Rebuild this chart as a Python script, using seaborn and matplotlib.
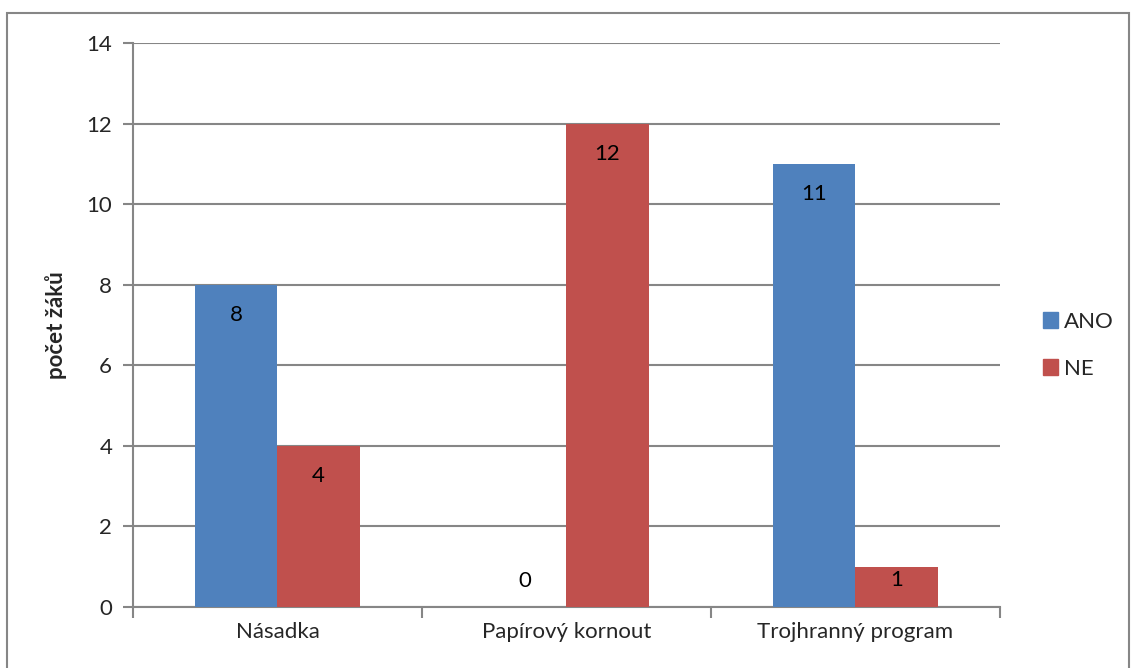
import seaborn as sns
import matplotlib.pyplot as plt
import matplotlib.patches as mpatches
import pandas as pd

kategorie = ["Násadka", "Papírový kornout", "Trojhranný program"]
ano = [8, 0, 11]
ne = [4, 12, 1]
odpovedi = ["ANO", "NE"]
barvy = ["#4F81BD", "#C0504D"]
yticks = [0, 2, 4, 6, 8, 10, 12, 14]

df = pd.DataFrame({
    "kategorie": kategorie * 2,
    "odpoved": ["ANO"] * len(kategorie) + ["NE"] * len(kategorie),
    "pocet": ano + ne,
})

sns.set_style("white")
plt.rcParams["font.family"] = ["Lato", "DejaVu Sans"]
grey = "#868686"

fig, ax = plt.subplots(figsize=(11.31, 6.68), dpi=100)
fig.subplots_adjust(left=0.1176, right=0.884, top=0.9356, bottom=0.0913)

sns.barplot(data=df, x="kategorie", y="pocet", hue="odpoved", order=kategorie,
            hue_order=odpovedi, palette=barvy, saturation=1, width=0.57, ax=ax,
            legend=False, zorder=3, linewidth=0, edgecolor="none")

ax.set_ylim(0, 14)
# kolik bodu odpovida jedne jednotce na ose y
pt_per_unit = ax.get_position().height * fig.get_figheight() * 72 / 14

# popisky hodnot
for cont in ax.containers:
    for bar in cont:
        h = bar.get_height()
        if h > 0:
            off = -min(22, h * pt_per_unit * 0.33)
        else:
            off = 19
        ax.annotate(f"{h:g}", (bar.get_x() + bar.get_width() / 2, h),
                    xytext=(0, off), textcoords="offset points",
                    ha="center", va="center", fontsize=16, color="black",
                    zorder=4)

ax.set_yticks(yticks)
ax.set_xlim(-0.5, len(kategorie) - 0.5)
ax.yaxis.grid(True, color=grey, linewidth=1.5)
ax.set_axisbelow(True)
for s in ["top", "right"]:
    ax.spines[s].set_visible(False)
for s in ["left", "bottom"]:
    ax.spines[s].set_color(grey)
    ax.spines[s].set_linewidth(1.5)

ax.tick_params(axis="y", length=7, width=1.5, color=grey, labelsize=16, pad=8,
               left=True)
ax.set_xticks([i - 0.5 for i in range(len(kategorie) + 1)], minor=True)
ax.tick_params(axis="x", which="minor", length=8, width=1.5, color=grey, bottom=True)
ax.tick_params(axis="x", which="major", length=0, labelsize=16, pad=11)
ax.set_xlabel("")
ax.set_ylabel("počet žáků", fontsize=16, fontweight="bold", labelpad=14)

handles = [mpatches.Patch(color=c, label=l) for c, l in zip(barvy, odpovedi)]
fig.legend(handles=handles, loc="center left", bbox_to_anchor=(0.912, 0.483),
           frameon=False, fontsize=16, handlelength=0.7, handleheight=0.7,
           handletextpad=0.25, labelspacing=1.2, borderpad=0)

# ramecek grafu
fig.patches.append(mpatches.Rectangle((7 / 1131, -0.05), 1122 / 1131, 1 - 13 / 668 + 0.05,
                                      transform=fig.transFigure, fill=False,
                                      edgecolor=grey, linewidth=1.5))

fig.savefig("out.png", dpi=100)
